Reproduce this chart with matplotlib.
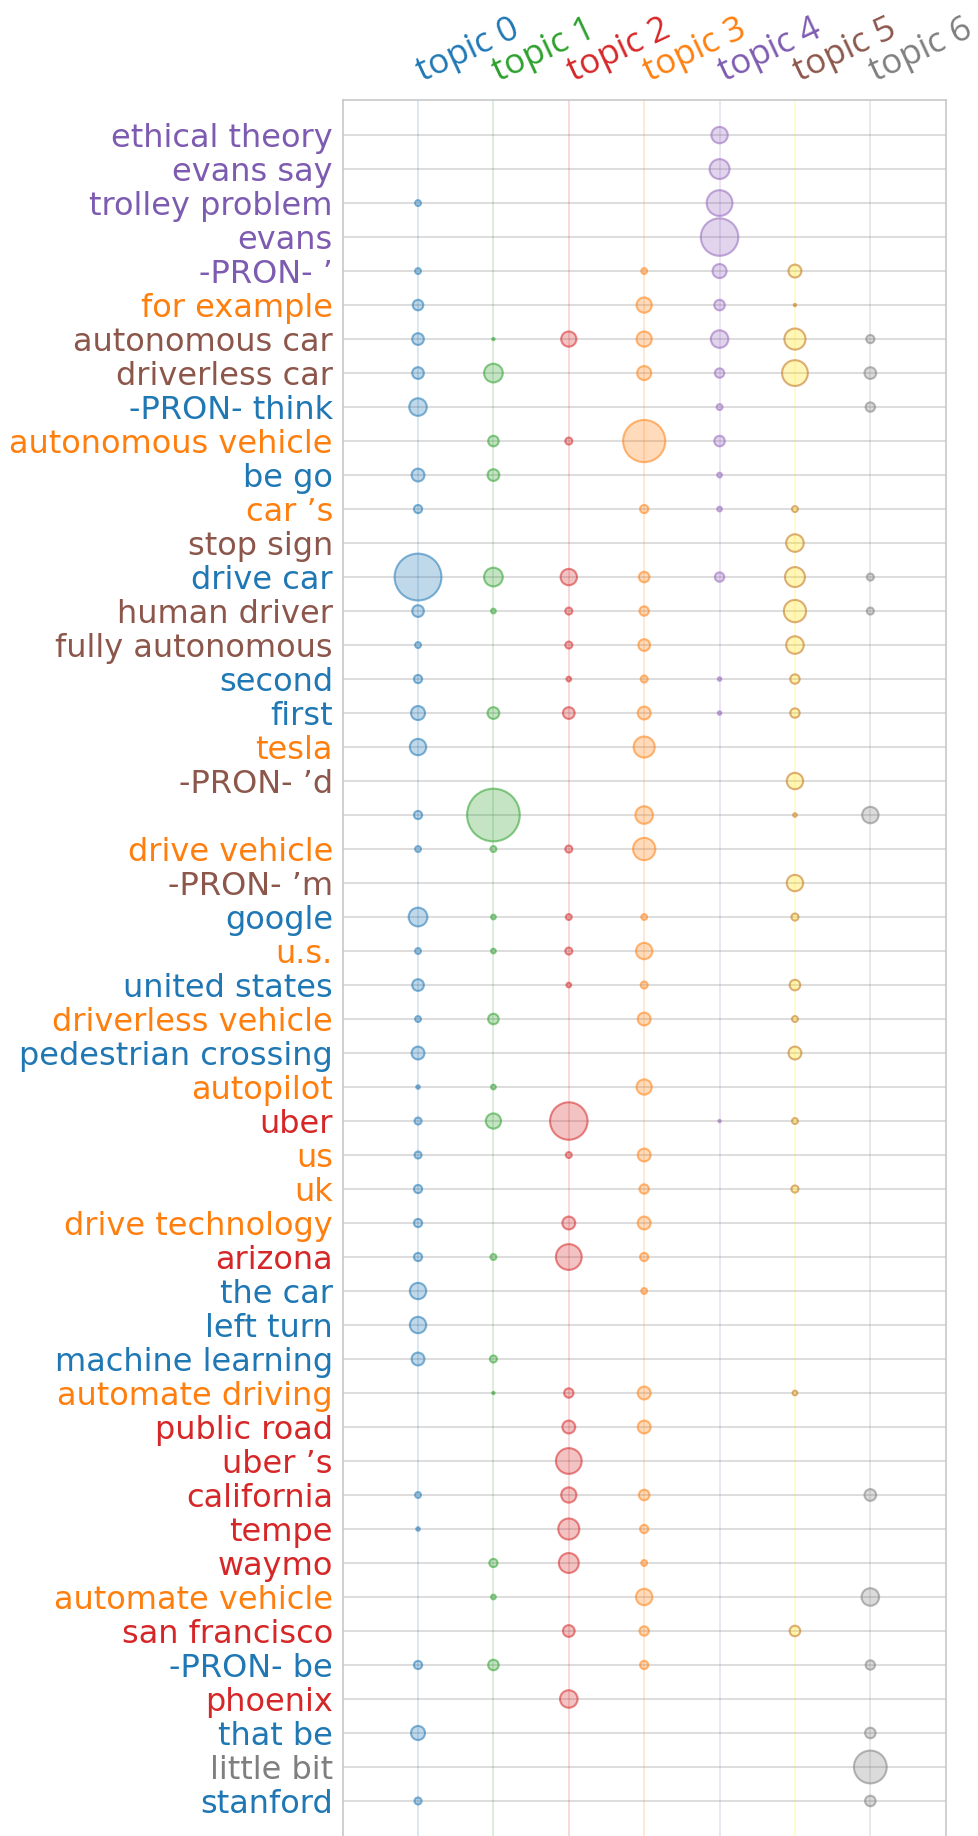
import numpy as np
import matplotlib
matplotlib.use("Agg")
import matplotlib.pyplot as plt
import matplotlib.transforms as mtransforms
from matplotlib.colors import to_rgba

LABEL_FS = 23
TOPIC_FS = 25

topics = ["topic 0", "topic 1", "topic 2", "topic 3", "topic 4", "topic 5", "topic 6"]
topic_colours = ["tab:blue", "tab:green", "tab:red", "tab:orange",
                 "#7d5bb0", "tab:brown", "tab:gray"]
# bubble fills differ from the label colour only for topic 5
bubble_fill = ["tab:blue", "tab:green", "tab:red", "tab:orange",
               "tab:purple", "#ffe000", "tab:gray"]
bubble_edge = ["tab:blue", "tab:green", "tab:red", "tab:orange",
               "tab:purple", "#c0701a", "tab:gray"]

terms = ["ethical theory", "evans say", "trolley problem", "evans", "-PRON- \u2019",
         "for example", "autonomous car", "driverless car", "-PRON- think",
         "autonomous vehicle", "be go", "car \u2019s", "stop sign", "drive car",
         "human driver", "fully autonomous", "second", "first", "tesla",
         "-PRON- \u2019d", "", "drive vehicle", "-PRON- \u2019m", "google", "u.s.",
         "united states", "driverless vehicle", "pedestrian crossing", "autopilot",
         "uber", "us", "uk", "drive technology", "arizona", "the car", "left turn",
         "machine learning", "automate driving", "public road", "uber \u2019s",
         "california", "tempe", "waymo", "automate vehicle", "san francisco",
         "-PRON- be", "phoenix", "that be", "little bit", "stanford"]

# dominant topic of each term (label colour)
term_topic = [4, 4, 4, 4, 4, 3, 5, 5, 0, 3, 0, 3, 5, 0, 5, 5, 0, 0, 3, 5,
              1, 3, 5, 0, 3, 0, 3, 0, 3, 2, 3, 3, 3, 2, 0, 0, 0, 3, 2, 2,
              2, 2, 2, 3, 2, 0, 2, 0, 6, 0]

# bubble weights per topic, one value per term (0 = no bubble)
topic0 = [0, 0, 5, 0, 5, 9, 10, 10, 15, 0, 11, 7, 0, 40, 10, 5, 7, 12, 14, 0,
          7, 5, 0, 16, 5, 10, 5, 11, 3, 6, 6, 7, 7, 7, 14, 14, 11, 0, 0, 0,
          5, 3, 0, 0, 0, 7, 0, 12, 0, 6]
topic1 = [0, 0, 0, 0, 0, 0, 2, 16, 0, 9, 10, 0, 0, 16, 4, 0, 0, 10, 0, 0,
          45, 5, 0, 4, 4, 0, 9, 0, 4, 13, 0, 0, 0, 5, 0, 0, 6, 2, 0, 0,
          0, 0, 7, 4, 0, 9, 0, 0, 0, 0]
topic2 = [0, 0, 0, 0, 0, 0, 13, 0, 0, 6, 0, 0, 0, 14, 6, 6, 4, 10, 0, 0,
          0, 6, 0, 5, 6, 4, 0, 0, 0, 32, 5, 0, 11, 22, 0, 0, 0, 8, 11, 22,
          13, 18, 17, 0, 10, 0, 15, 0, 0, 0]
topic3 = [0, 0, 0, 0, 5, 13, 13, 12, 0, 36, 0, 7, 0, 9, 8, 10, 6, 11, 18, 0,
          15, 19, 0, 5, 14, 6, 11, 0, 13, 0, 11, 8, 11, 7, 5, 0, 0, 11, 11, 0,
          9, 7, 5, 14, 8, 7, 0, 0, 0, 0]
topic4 = [14, 17, 22, 32, 12, 9, 15, 8, 5, 9, 4, 4, 0, 8, 0, 0, 3, 3, 0, 0,
          0, 0, 0, 0, 0, 0, 0, 0, 0, 2, 0, 0, 0, 0, 0, 0, 0, 0, 0, 0,
          0, 0, 0, 0, 0, 0, 0, 0, 0, 0]
topic5 = [0, 0, 0, 0, 11, 2, 18, 22, 0, 0, 0, 5, 15, 17, 19, 15, 8, 8, 0, 14,
          3, 0, 14, 6, 0, 9, 5, 11, 0, 5, 0, 6, 0, 0, 0, 0, 0, 4, 0, 0,
          0, 0, 0, 0, 9, 0, 0, 0, 0, 0]
topic6 = [0, 0, 0, 0, 0, 0, 7, 10, 8, 0, 0, 0, 0, 6, 6, 0, 0, 0, 0, 0,
          14, 0, 0, 0, 0, 0, 0, 0, 0, 0, 0, 0, 0, 0, 0, 0, 0, 0, 0, 0,
          10, 0, 0, 15, 0, 8, 0, 9, 28, 9]

weights = [topic0, topic1, topic2, topic3, topic4, topic5, topic6]

DPI = 100
fig = plt.figure(figsize=(9.79, 18.36), dpi=DPI)
ax = fig.add_axes([0.350, 0.0, 0.616, 0.9455])

n_terms = len(terms)
rows = np.arange(n_terms)

# grid: grey rows, faint coloured topic columns
for r in rows:
    ax.axhline(r, color="#d3d3d3", lw=1.1, zorder=1)
for j in range(len(topics)):
    ax.axvline(j, color=to_rgba(bubble_fill[j], 0.22), lw=1.1, zorder=1)

for j, w in enumerate(weights):
    w = np.asarray(w, dtype=float)
    mask = w > 0
    # weight ~ bubble diameter in px of the reference
    sizes = (w[mask] * 1.171 * 72.0 / DPI) ** 2
    ax.scatter(np.full(mask.sum(), j), rows[mask], s=sizes,
               facecolor=to_rgba(bubble_fill[j], 0.28),
               edgecolor=to_rgba(bubble_edge[j], 0.55),
               linewidth=1.5, zorder=3)

ax.set_xlim(-1, len(topics))
ax.set_ylim(n_terms - 1 + 1.03, -1.03)

ax.set_yticks(rows)
ax.set_yticklabels(terms, fontsize=LABEL_FS)
for lbl, t in zip(ax.get_yticklabels(), term_topic):
    lbl.set_color(topic_colours[t])

# topic names above the columns, slanted
ax.set_xticks(range(len(topics)))
ax.tick_params(axis="x", labelbottom=False, labeltop=False)
trans = ax.get_xaxis_transform() + mtransforms.ScaledTranslation(
    0.05, 0.18, fig.dpi_scale_trans)
for j, (name, c) in enumerate(zip(topics, topic_colours)):
    ax.text(j, 1.0, name, transform=trans, color=c, fontsize=TOPIC_FS,
            family=["Open Sans", "DejaVu Sans"], rotation=25,
            ha="left", va="baseline", rotation_mode="anchor")

ax.tick_params(axis="both", length=0)
ax.tick_params(axis="y", pad=7)

for side in ["left", "right", "top"]:
    ax.spines[side].set_color("#c8c8c8")
    ax.spines[side].set_linewidth(1.2)
ax.spines["bottom"].set_visible(False)

fig.savefig("out.png", dpi=DPI, facecolor="white")
